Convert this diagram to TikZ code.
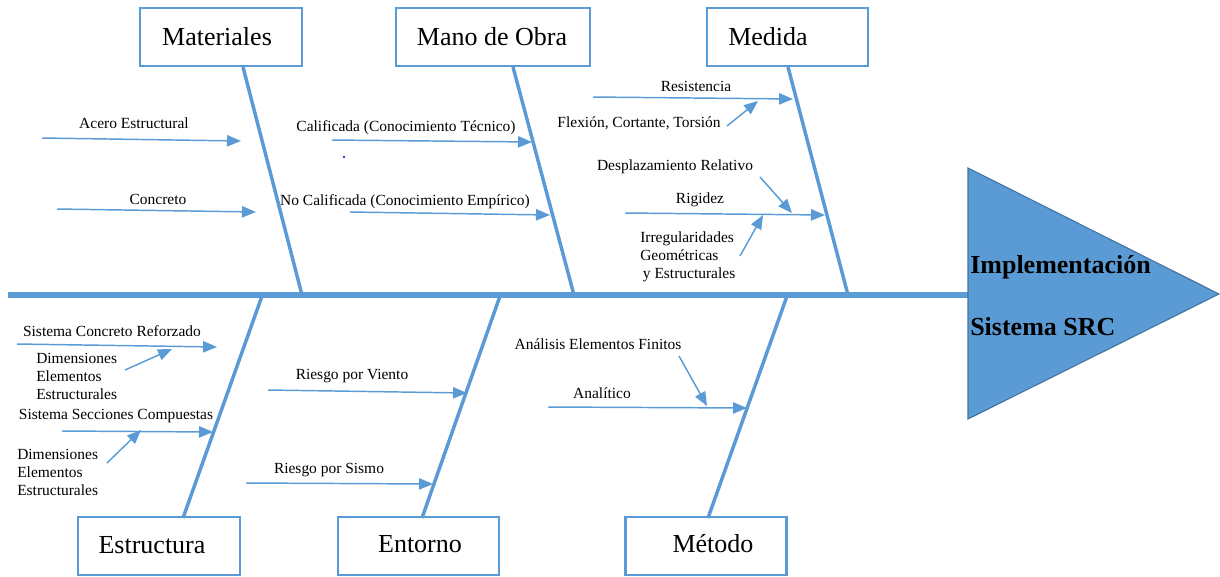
\documentclass[tikz,border=0pt]{standalone}
\usepackage{fontspec}
\setmainfont{Liberation Serif}
\usetikzlibrary{arrows.meta}
\definecolor{bone}{HTML}{5B9BD5}
\definecolor{headedge}{HTML}{41719C}
\begin{document}
\begin{tikzpicture}[x=0.75pt,y=-0.75pt,
  catbox/.style={draw=bone, line width=1.6pt, fill=white, minimum width=#1,
    minimum height=43.5pt, inner sep=0pt},
  cattext/.style={inner sep=0pt, font=\fontsize{19.5}{22}\selectfont},
  spine/.style={draw=bone, line width=3.8pt},
  rib/.style={draw=bone, line width=2.6pt},
  cause/.style={draw=bone, line width=1.1pt, -{Triangle[length=10.5pt,width=8.5pt]}},
  lbl/.style={inner sep=0pt, font=\fontsize{11.6}{13.5}\selectfont},
  lblblock/.style={lbl, align=left, anchor=west},
  headtext/.style={inner sep=0pt, anchor=west, font=\bfseries\fontsize{19.5}{22}\selectfont}]
\useasboundingbox (0,0) rectangle (1220,576);

% ---------- main spine and head ----------
\coordinate (spL) at (8,295);
\coordinate (headL) at (968,295);
\draw[spine] (spL) -- (headL);
\draw[fill=bone, draw=headedge, line width=0.8pt] (968,168) -- (1219,294) -- (968,419) -- cycle;
\node[headtext] (headA) at (970,267) {Implementación};
\node[headtext] (headB) at (970,327) {Sistema SRC};

% ---------- category boxes ----------
\node[catbox=121.5pt]  (matBox)  at (221,37)  {};
\node[cattext]         (mat)     at (217,37)  {Materiales};
\node[catbox=145.5pt]  (manoBox) at (493,37)  {};
\node[cattext]         (mano)    at (492,37)  {Mano de Obra};
\node[catbox=120.75pt] (medBox)  at (787.5,37) {};
\node[cattext]         (med)     at (768,37)  {Medida};
\node[catbox=121.5pt]  (estBox)  at (159,546) {};
\node[cattext]         (est)     at (152,545) {Estructura};
\node[catbox=120.75pt] (entBox)  at (418.5,546) {};
\node[cattext]         (ent)     at (420,544) {Entorno};
\node[catbox=120.75pt] (metBox)  at (706,546) {};
\node[cattext]         (met)     at (713,544) {Método};

% ---------- ribs ----------
\coordinate (matTop)  at (243,67);  \coordinate (matEnd)  at (302,295);
\coordinate (manoTop) at (513,67);  \coordinate (manoEnd) at (574,295);
\coordinate (medTop)  at (788,67);  \coordinate (medEnd)  at (848,295);
\coordinate (estTop)  at (262,296); \coordinate (estEnd)  at (183,518);
\coordinate (entTop)  at (500,296); \coordinate (entEnd)  at (422,518);
\coordinate (metTop)  at (787,296); \coordinate (metEnd)  at (708,518);
\draw[rib] (matTop) -- (matEnd);
\draw[rib] (manoTop) -- (manoEnd);
\draw[rib] (medTop) -- (medEnd);
\draw[rib] (estTop) -- (estEnd);
\draw[rib] (entTop) -- (entEnd);
\draw[rib] (metTop) -- (metEnd);

% ---------- Materiales ----------
\node[lbl] (acL) at (134,123) {Acero Estructural};
\coordinate (acS) at (42,138); \coordinate (acE) at (241,141);
\draw[cause] (acS) -- (acE);
\node[lbl] (coL) at (158,199) {Concreto};
\coordinate (coS) at (57,209); \coordinate (coE) at (256,212);
\draw[cause] (coS) -- (coE);

% ---------- Mano de Obra ----------
\node[lbl] (caL) at (406,128) {Calificada (Conocimiento Técnico)};
\coordinate (caS) at (332,140); \coordinate (caE) at (532,142);
\draw[cause] (caS) -- (caE);
\fill[blue!75!black] (344,157) circle (0.8pt);
\node[lbl] (ncL) at (405,202) {No Calificada (Conocimiento Empírico)};
\coordinate (ncS) at (350,212); \coordinate (ncE) at (550,215);
\draw[cause] (ncS) -- (ncE);

% ---------- Medida ----------
\node[lbl] (reL) at (696,86) {Resistencia};
\coordinate (reS) at (593,97); \coordinate (reE) at (793,99);
\draw[cause] (reS) -- (reE);
\node[lbl] (flL) at (639,123) {Flexión, Cortante, Torsión};
\coordinate (flS) at (727,126); \coordinate (flE) at (758,101);
\draw[cause] (flS) -- (flE);
\node[lbl] (deL) at (675,167) {Desplazamiento Relativo};
\coordinate (deS) at (760,177); \coordinate (deE) at (792,213);
\draw[cause] (deS) -- (deE);
\node[lbl] (riL) at (700,200) {Rigidez};
\coordinate (riS) at (625,213); \coordinate (riE) at (825,215);
\draw[cause] (riS) -- (riE);
\node[lblblock] (irL) at (640,257) {Irregularidades\\Geométricas\\\hspace{2pt}y Estructurales};
\coordinate (irS) at (740,256); \coordinate (irE) at (763,215);
\draw[cause] (irS) -- (irE);

% ---------- Estructura ----------
\node[lbl] (scL) at (112,331) {Sistema Concreto Reforzado};
\coordinate (scS) at (17,344); \coordinate (scE) at (217,347);
\draw[cause] (scS) -- (scE);
\node[lblblock] (d1L) at (36,376) {Dimensiones\\Elementos\\Estructurales};
\coordinate (d1S) at (125,370); \coordinate (d1E) at (172,349);
\draw[cause] (d1S) -- (d1E);
\node[lbl] (ssL) at (116,416) {Sistema Secciones Compuestas};
\coordinate (ssS) at (62,431); \coordinate (ssE) at (213,432);
\draw[cause] (ssS) -- (ssE);
\node[lblblock] (d2L) at (17,472) {Dimensiones\\Elementos\\Estructurales};
\coordinate (d2S) at (107,463); \coordinate (d2E) at (141,430);
\draw[cause] (d2S) -- (d2E);

% ---------- Entorno ----------
\node[lbl] (viL) at (352,376) {Riesgo por Viento};
\coordinate (viS) at (268,390); \coordinate (viE) at (467,393);
\draw[cause] (viS) -- (viE);
\node[lbl] (siL) at (329,470) {Riesgo por Sismo};
\coordinate (siS) at (246,483); \coordinate (siE) at (433,484);
\draw[cause] (siS) -- (siE);

% ---------- Método ----------
\node[lbl] (afL) at (598,344) {Análisis Elementos Finitos};
\coordinate (afS) at (679,356); \coordinate (afE) at (707,406);
\draw[cause] (afS) -- (afE);
\node[lbl] (anL) at (602,393) {Analítico};
\coordinate (anS) at (548,407); \coordinate (anE) at (747,408);
\draw[cause] (anS) -- (anE);
\end{tikzpicture}
\end{document}
